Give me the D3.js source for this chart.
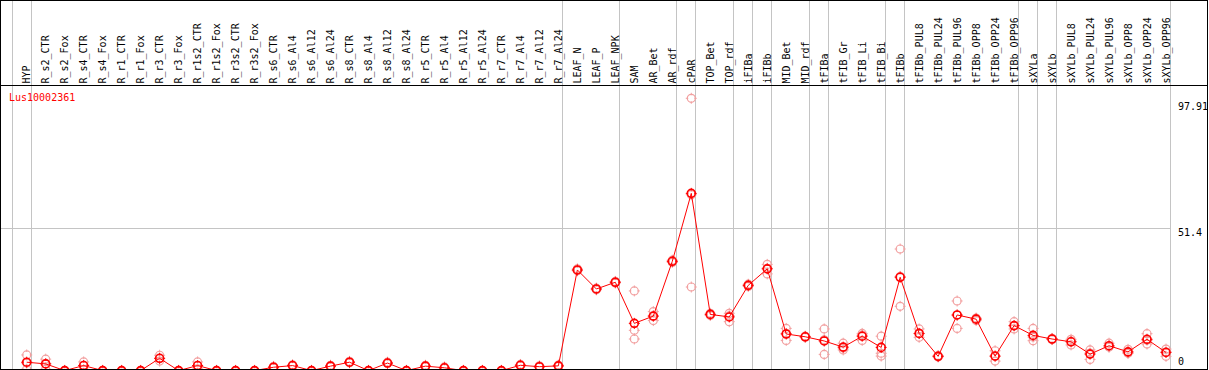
<!DOCTYPE html>
<html>
<head>
<meta charset="utf-8">
<script src="https://cdn.jsdelivr.net/npm/d3@7"></script>
<style>
  body { margin: 0; background: #fff; }
  text { font-family: "DejaVu Sans Mono", monospace; font-size: 10px; }
</style>
</head>
<body>
<svg id="svg" width="1209" height="370"></svg>
<script>
// sample names, in the order they are drawn
let categories = ["HYP", "R_s2_CTR", "R_s2_Fox", "R_s4_CTR", "R_s4_Fox", "R_r1_CTR", "R_r1_Fox", "R_r3_CTR", "R_r3_Fox",
    "R_r1s2_CTR", "R_r1s2_Fox", "R_r3s2_CTR", "R_r3s2_Fox", "R_s6_CTR", "R_s6_Al4", "R_s6_Al12", "R_s6_Al24",
    "R_s8_CTR", "R_s8_Al4", "R_s8_Al12", "R_s8_Al24", "R_r5_CTR", "R_r5_Al4", "R_r5_Al12", "R_r5_Al24",
    "R_r7_CTR", "R_r7_Al4", "R_r7_Al12", "R_r7_Al24", "LEAF_N", "LEAF_P", "LEAF_NPK", "SAM", "AR_Bet", "AR_rdf",
    "cPAR", "TOP_Bet", "TOP_rdf", "iFIBa", "iFIBb", "MID_Bet", "MID_rdf", "tFIBa", "tFIB_Gr", "tFIB_Li", "tFIB_Bi",
    "tFIBb", "tFIBb_PUL8", "tFIBb_PUL24", "tFIBb_PUL96", "tFIBb_OPP8", "tFIBb_OPP24", "tFIBb_OPP96",
    "sXYLa", "sXYLb", "sXYLb_PUL8", "sXYLb_PUL24", "sXYLb_PUL96", "sXYLb_OPP8", "sXYLb_OPP24", "sXYLb_OPP96"];

// mean expression per sample
let meanValues = [3.5, 2.9, 0.5, 2.3, 0.5, 0.5, 0.5, 4.9, 0.5,
    2.3, 0.5, 0.5, 0.5, 1.7, 2.3, 0.5, 2.1,
    3.5, 0.5, 3.2, 0.5, 2.1, 1.5, 0.5, 0.5,
    0.5, 2.4, 1.9, 2.2, 36.5, 29.7, 32.1, 17.4, 20.0, 39.6,
    63.9, 20.6, 19.7, 31.0, 36.9, 13.6, 12.6, 11.1, 8.9, 12.8, 8.8,
    33.9, 13.8, 5.6, 20.4, 18.9, 5.7, 16.6,
    13.1, 11.8, 10.8, 6.4, 9.4, 7.2, 11.7, 7.0];

// single replicates per sample
let replicateValues = [[6.1, 3.2, 1.0], [4.6, 3.0, 1.0], [0.6, 0.4, 0.2], [3.6, 2.4, 0.9], [0.6, 0.4, 0.2],
    [0.6, 0.4, 0.2], [0.6, 0.4, 0.2], [6.0, 4.8, 3.9], [0.6, 0.4, 0.2],
    [3.6, 2.2, 1.1], [0.6, 0.4, 0.2], [0.6, 0.4, 0.2], [0.6, 0.4, 0.2], [2.0, 1.6, 1.5], [2.6, 2.2, 2.1],
    [0.6, 0.4, 0.2], [2.4, 2.0, 1.9],
    [3.8, 3.4, 3.3], [0.6, 0.4, 0.2], [3.5, 3.1, 3.0], [0.6, 0.4, 0.2], [2.4, 2.0, 1.9], [1.8, 1.4, 1.3],
    [0.6, 0.4, 0.2], [0.6, 0.4, 0.2],
    [0.6, 0.4, 0.2], [2.7, 2.3, 2.2], [2.2, 1.8, 1.7], [2.5, 2.1, 2.0], [36.9, 36.2, 36.4], [30.0, 29.4, 29.7],
    [32.4, 31.8, 32.1], [29.0, 14.9, 11.8], [21.6, 18.4, 20.0], [40.0, 39.2, 39.6],
    [97.91, 30.4, 63.4], [20.2, 21.0, 20.5], [21.0, 18.0, 20.1], [31.4, 30.6, 31.0], [38.5, 35.1, 37.1],
    [15.6, 11.3, 13.8], [12.8, 12.4, 12.6], [15.4, 6.3, 11.5], [10.3, 7.9, 8.6], [13.8, 11.3, 13.2], [12.8, 6.7, 5.7],
    [44.0, 23.5, 34.2], [15.4, 12.4, 13.7], [5.9, 5.4, 5.6], [25.4, 15.6, 20.3], [18.4, 19.3, 19.0],
    [7.6, 3.9, 5.6], [18.0, 15.4, 16.5],
    [15.6, 11.2, 12.5], [12.0, 11.6, 11.8], [11.7, 9.7, 11.0], [7.9, 4.5, 6.8], [10.3, 9.0, 8.9],
    [8.1, 6.8, 6.7], [13.7, 10.0, 11.4], [8.2, 5.6, 7.2]];

// y axis labels (min, middle, max)
let yTicks = [0, 51.4, 97.91];

// first sample of every group, a grey separator goes in front of each
let groupStarts = ["HYP", "R_s2_CTR", "LEAF_N", "SAM", "cPAR", "TOP_Bet", "iFIBa", "iFIBb", "MID_Bet",
    "tFIBa", "tFIB_Gr", "tFIBb", "tFIBb_PUL8", "sXYLa", "sXYLb", "sXYLb_PUL8"];

let geneName = "Lus10002361";

let width = 1209, height = 370;
let headerBottom = 85.5, plotBottom = 369.5, rightEdge = 1207.5;

let svg = d3.select("#svg");

let x = d3.scalePoint().domain(categories).range([26.7, 1166]);
let step = x.step();
let y = d3.scaleLinear().domain([0, 97.91]).range([372, 98.3]);

let sepX = function (name) { return Math.round(x(name) - 15) + 0.5; };
let lastSep = Math.round(x(categories[categories.length - 1]) + step - 15) + 0.5;

//Grey group separators (full height)
let seps = groupStarts.map(sepX).concat([lastSep]);
svg.selectAll(".sep").data(seps).enter().append("line")
    .attr("x1", d => d).attr("x2", d => d)
    .attr("y1", 0).attr("y2", plotBottom)
    .attr("stroke", "#c4c4c4").attr("shape-rendering", "crispEdges");

//Horizontal grid line for inner ticks only
svg.selectAll(".grid").data(yTicks.slice(1, -1)).enter().append("line")
    .attr("x1", 0).attr("x2", lastSep)
    .attr("y1", d => Math.round(y(d)) + 0.5).attr("y2", d => Math.round(y(d)) + 0.5)
    .attr("stroke", "#c4c4c4").attr("shape-rendering", "crispEdges");

//Plot clip
svg.append("clipPath").attr("id", "plotClip")
    .append("rect").attr("x", 0).attr("y", headerBottom).attr("width", rightEdge).attr("height", plotBottom - headerBottom);

let plot = svg.append("g").attr("clip-path", "url(#plotClip)");

//Marker: circle with small ticks at the four sides
function marker(g, cx, cy, colour, sw) {
    g.append("circle").attr("cx", cx).attr("cy", cy).attr("r", 4)
        .attr("fill", "none").attr("stroke", colour).attr("stroke-width", sw);
    let p = "M" + cx + "," + (cy - 5.5) + "v2.5M" + cx + "," + (cy + 3) + "v2.5"
        + "M" + (cx - 5.5) + "," + cy + "h2.5M" + (cx + 3) + "," + cy + "h2.5";
    g.append("path").attr("d", p).attr("stroke", colour).attr("stroke-width", 1);
}

//Replicates
let reps = plot.append("g");
replicateValues.forEach(function (vals, i) {
    vals.forEach(function (v) {
        marker(reps, x(categories[i]), y(v), "#f2a0a0", 1.2);
    });
});

//Mean line
let line = d3.line().x((d, i) => x(categories[i])).y(d => y(d));
plot.append("path").datum(meanValues)
    .attr("d", line).attr("fill", "none").attr("stroke", "#ff0000").attr("stroke-width", 1);

let means = plot.append("g");
meanValues.forEach(function (v, i) {
    marker(means, x(categories[i]), y(v), "#ff0000", 1.6);
});

//Sample labels in the header, reading upwards
svg.selectAll(".lab").data(categories).enter().append("text")
    .attr("transform", d => "translate(" + (x(d) + 3.5) + "," + (headerBottom - 2) + ") rotate(-90)")
    .attr("fill", "#000")
    .text(d => d);

//Gene name
svg.append("text").attr("x", 9).attr("y", 101).attr("fill", "#ff0000").text(geneName);

//Y labels to the right
svg.selectAll(".ylab").data(yTicks).enter().append("text")
    .attr("x", 1178)
    .attr("y", d => Math.max(110, Math.min(364.5, y(d) + 7.5)))
    .attr("fill", "#000")
    .text(d => d);

//Frame
svg.append("rect").attr("x", 0.5).attr("y", 0.5).attr("width", rightEdge - 0.5).attr("height", plotBottom - 0.5)
    .attr("fill", "none").attr("stroke", "#000").attr("shape-rendering", "crispEdges");
svg.append("line").attr("x1", 0).attr("x2", rightEdge).attr("y1", headerBottom).attr("y2", headerBottom)
    .attr("stroke", "#000").attr("shape-rendering", "crispEdges");
</script>
</body>
</html>
